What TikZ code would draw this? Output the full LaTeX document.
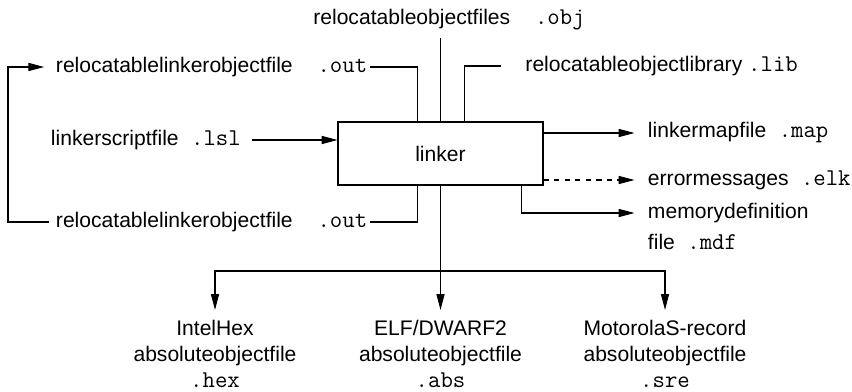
\documentclass[tikz,border=0pt]{standalone}
\usepackage{fontspec}
\setmainfont{Liberation Sans}
\usetikzlibrary{arrows.meta}
\newcommand{\ext}[1]{{\fontsize{13.7}{15}\selectfont\ttfamily #1}}
\tikzset{
    fname/.style={font=\fontsize{12}{15}\selectfont, inner sep=1.5pt},
    linkbox/.style={draw, line width=0.6pt, minimum width=4.1cm, minimum height=1.26cm, font=\fontsize{12}{15}\selectfont},
    conn/.style={line width=0.6pt},
    arr/.style={conn, -{Triangle[length=9pt,width=4.6pt]}}
}

\begin{document}
\begin{tikzpicture}
    \useasboundingbox (0,0) rectangle (17.04,7.82);

    % Linker
    \node[linkbox] (linker) at (8.81,4.75) {linker};

    % Inputs
    \node[fname] (obj) at (8.98,7.42) {relocatableobjectfiles\ext{\ \ .obj}};
    \node[fname,anchor=west] (lib) at (10.45,6.5) {relocatableobjectlibrary \ext{.lib}};
    \node[fname,anchor=west] (outtop) at (1.06,6.48) {relocatablelinkerobjectfile\ext{\ \ .out}};
    \node[fname,anchor=west] (lsl) at (0.96,5.02) {linkerscriptfile\ext{\ .lsl}};
    \node[fname,anchor=west] (outbot) at (1.06,3.38) {relocatablelinkerobjectfile\ext{\ \ .out}};

    % Outputs
    \node[fname,anchor=west] (map) at (12.9,5.16) {linkermapfile\ext{\ .map}};
    \node[fname,anchor=west] (elk) at (12.9,4.22) {errormessages\ext{\ .elk}};
    \node[fname,anchor=west] (mdf) at (12.9,3.56) {memorydefinition};
    \node[fname,anchor=west] (mdfext) at (12.9,2.98) {file\ext{\ .mdf}};

    \node[fname,align=center] (hex) at (4.3,0.74) {IntelHex\\absoluteobjectfile\\\ext{.hex}};
    \node[fname,align=center] (abs) at (8.81,0.74) {ELF/DWARF2\\absoluteobjectfile\\\ext{.abs}};
    \node[fname,align=center] (sre) at (13.3,0.74) {MotorolaS-record\\absoluteobjectfile\\\ext{.sre}};

    \coordinate (loop) at (0.16,4.75);
    \coordinate (bus) at (8.81,2.4);

    % Connectors into the linker
    \draw[conn] (linker.north) -- ([yshift=-0.1cm]linker.north |- obj.south);
    \draw[conn,shorten >=12pt] ([xshift=2.54cm]linker.north west) |- (lib.west);
    \draw[conn] (outtop.east) -| ([xshift=1.6cm]linker.north west);
    \draw[arr,shorten <=5pt] (lsl.east) -- (linker.west |- lsl);
    \draw[conn] (outbot.east) -| ([xshift=1.6cm]linker.south west);
    \draw[arr,shorten <=2.5pt,shorten >=5pt] (outbot.west) -| (loop) |- (outtop.west);

    % Connectors out of the linker
    \draw[arr,shorten >=6pt] (linker.east |- map) -- (map.west);
    \draw[arr,dashed,dash pattern=on 3pt off 3pt,shorten >=6pt] (linker.east |- elk) -- (elk.west);
    \draw[arr,shorten >=6pt] ([xshift=3.68cm]linker.south west) |- (mdf.west);
    \draw[arr,shorten >=4pt] (linker.south) -- (abs.north);
    \draw[arr,shorten >=4pt] (bus) -| (hex.north);
    \draw[arr,shorten >=4pt] (bus) -| (sre.north);
\end{tikzpicture}
\end{document}
